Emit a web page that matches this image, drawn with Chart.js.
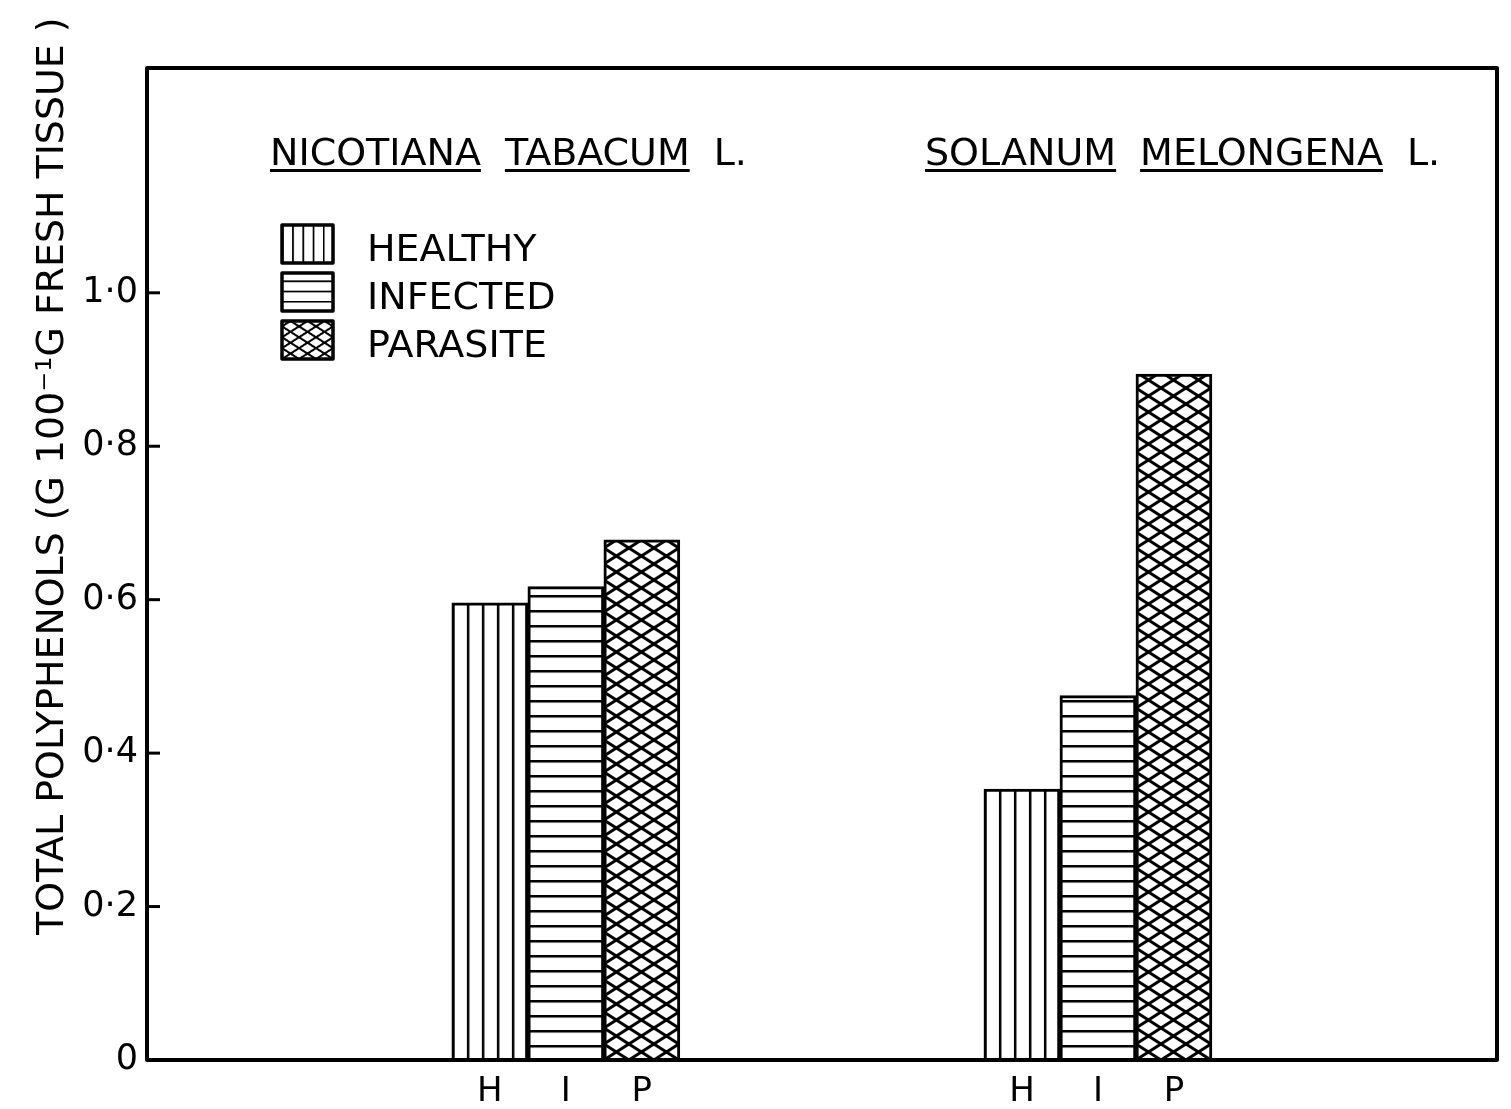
<!DOCTYPE html>
<html>
<head>
<meta charset="utf-8">
<title>Total polyphenols</title>
<script src="https://cdn.jsdelivr.net/npm/chart.js@4.4.0/dist/chart.umd.min.js"></script>
<style>
  html, body { margin: 0; padding: 0; background: #fff; }
  #wrap { width: 1511px; height: 1109px; position: relative; }
</style>
</head>
<body>
<div id="wrap"><canvas id="chart"></canvas></div>
<script>
// host plants, one group of bars each
const species = ['NICOTIANA TABACUM L.', 'SOLANUM MELONGENA L.'];
const barLetters = ['H', 'I', 'P'];
const seriesNames = ['HEALTHY', 'INFECTED', 'PARASITE'];

// total polyphenols, g per 100 g fresh tissue
const healthy = [0.596, 0.353];
const infected = [0.617, 0.475];
const parasite = [0.678, 0.894];

const yTicks = [0, 0.2, 0.4, 0.6, 0.8, 1.0];
const yTickLabels = ['0', '0·2', '0·4', '0·6', '0·8', '1·0'];
const yTitle = 'TOTAL POLYPHENOLS (G 100⁻¹G FRESH TISSUE )';

const FONT = 'DejaVu Sans';
const groupFirstSlot = [5, 12];   // x slot of the first bar in each group

// hatch tiles drawn once, then used as canvas patterns
function makeTile(kind) {
  const w = kind === 'cross' ? 25 : 15;
  const h = kind === 'cross' ? 16 : 15;
  const c = document.createElement('canvas');
  c.width = w; c.height = h;
  const g = c.getContext('2d');
  g.fillStyle = '#fff';
  g.fillRect(0, 0, w, h);
  g.fillStyle = '#000';
  g.strokeStyle = '#000';
  if (kind === 'vertical') {
    g.fillRect(0, 0, 2.5, h);
  } else if (kind === 'horizontal') {
    g.fillRect(0, 0, w, 2.5);
  } else {
    g.lineWidth = 3;
    for (let n = -1; n <= 1; n++) {
      g.beginPath();
      g.moveTo(-w + n * w, -h);
      g.lineTo(2 * w + n * w, 2 * h);
      g.stroke();
      g.beginPath();
      g.moveTo(-w + n * w, 2 * h);
      g.lineTo(2 * w + n * w, -h);
      g.stroke();
    }
  }
  return c;
}
const tiles = {
  vertical: makeTile('vertical'),
  horizontal: makeTile('horizontal'),
  cross: makeTile('cross')
};
const seriesHatch = ['vertical', 'horizontal', 'cross'];

function hatchPattern(ctx2d, kind, tx, ty, s) {
  const p = ctx2d.createPattern(tiles[kind], 'repeat');
  p.setTransform(new DOMMatrix().translate(tx, ty).scale(s || 1));
  return p;
}

// pattern lined up with the bar's own lower-left corner
function barFill(kind) {
  return function (c) {
    const chart = c.chart;
    const xs = chart.scales.x, ys = chart.scales.y;
    if (c.type !== 'data' || !xs || !ys) {
      return hatchPattern(chart.ctx, kind, 0, 0);
    }
    const half = (xs.getPixelForValue(1) - xs.getPixelForValue(0)) / 2;
    const left = xs.getPixelForValue(c.raw.x) - half;
    return hatchPattern(chart.ctx, kind, left, ys.getPixelForValue(0));
  };
}

const seriesValues = [healthy, infected, parasite];
const datasets = seriesNames.map((name, i) => ({
  label: name,
  data: species.map((sp, g) => ({ x: groupFirstSlot[g] + i, y: seriesValues[i][g] })),
  backgroundColor: barFill(seriesHatch[i]),
  borderColor: '#000',
  borderWidth: 3,
  grouped: false,
  barPercentage: 1,
  categoryPercentage: 1
}));

const barSlots = [];
species.forEach((sp, g) => barLetters.forEach((l, i) => barSlots.push(groupFirstSlot[g] + i)));

const decorations = {
  id: 'decorations',
  afterDraw(chart) {
    const { ctx, chartArea: a, scales: { y } } = chart;
    ctx.save();
    ctx.fillStyle = '#000';
    ctx.strokeStyle = '#000';

    // box round the plot
    ctx.lineWidth = 4;
    ctx.lineJoin = 'round';
    ctx.strokeRect(a.left, a.top, a.right - a.left, a.bottom - a.top);

    // short ticks pointing inwards
    ctx.lineWidth = 3;
    y.ticks.forEach(t => {
      const py = y.getPixelForValue(t.value);
      ctx.beginPath();
      ctx.moveTo(a.left, py);
      ctx.lineTo(a.left + 13, py);
      ctx.stroke();
    });

    // species names, genus and species underlined
    ctx.font = '38px "' + FONT + '"';
    ctx.textBaseline = 'alphabetic';
    ctx.textAlign = 'left';
    const titleX = [a.left + 123, a.left + 778];
    species.forEach((sp, g) => {
      let x = titleX[g];
      const words = sp.split(' ');
      words.forEach((w, k) => {
        ctx.fillText(w, x, a.top + 97);
        const wd = ctx.measureText(w).width;
        if (k < words.length - 1) {
          ctx.fillRect(x, a.top + 101, wd, 3);
        }
        x += wd + 24;
      });
    });

    // legend
    chart.data.datasets.forEach((ds, i) => {
      const bx = a.left + 135, by = a.top + 157 + i * 48, bw = 51, bh = 38;
      ctx.fillStyle = hatchPattern(ctx, seriesHatch[i], bx, by + bh, 0.68);
      ctx.fillRect(bx, by, bw, bh);
      ctx.lineWidth = 3.5;
      ctx.strokeRect(bx, by, bw, bh);
      ctx.fillStyle = '#000';
      ctx.fillText(ds.label, bx + 85, by + bh - 2);
    });

    // y axis title, sized to run from below 0.2 up to the top edge
    ctx.translate(63, 935);
    ctx.rotate(-Math.PI / 2);
    ctx.font = '40px "' + FONT + '"';
    const size = Math.min(40, 40 * 918 / ctx.measureText(yTitle).width);
    ctx.font = size.toFixed(1) + 'px "' + FONT + '"';
    ctx.fillText(yTitle, 0, 0);
    ctx.restore();
  }
};

new Chart(document.getElementById('chart'), {
  type: 'bar',
  data: { datasets: datasets },
  plugins: [decorations],
  options: {
    responsive: true,
    maintainAspectRatio: false,
    animation: false,
    layout: { padding: { top: 68, right: 14, left: 0, bottom: 0 } },
    plugins: {
      legend: { display: false },
      tooltip: { enabled: false }
    },
    scales: {
      x: {
        type: 'linear',
        offset: false,
        min: 0.49,
        max: 18.25,
        grid: { display: false, drawTicks: false },
        border: { display: false },
        afterBuildTicks: s => { s.ticks = barSlots.map(v => ({ value: v })); },
        afterFit: s => { s.height = 49; },
        ticks: {
          autoSkip: false,
          maxRotation: 0,
          padding: 12,
          color: '#000',
          font: { family: FONT, size: 34 },
          callback: (v, i) => barLetters[i % barLetters.length]
        }
      },
      y: {
        min: 0,
        max: 1.293,
        grid: { display: false, drawTicks: false },
        border: { display: false },
        afterBuildTicks: s => { s.ticks = yTicks.map(v => ({ value: v })); },
        afterFit: s => { s.width = 147; },
        ticks: {
          padding: 9,
          color: '#000',
          font: { family: FONT, size: 35 },
          callback: (v, i) => yTickLabels[i]
        }
      }
    }
  }
});
</script>
</body>
</html>
